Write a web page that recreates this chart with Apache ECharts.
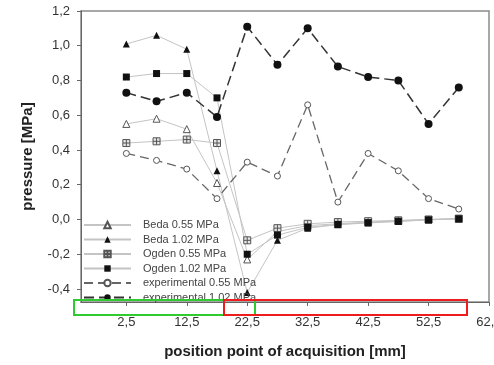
<!DOCTYPE html>
<html>
<head>
<meta charset="utf-8">
<script src="https://cdn.jsdelivr.net/npm/echarts@6/dist/echarts.min.js"></script>
<style>
  html, body { margin: 0; padding: 0; background: #fff; }
  #chart { width: 494px; height: 365px; }
</style>
</head>
<body>
<div id="chart"></div>
<script>
// measuring points along the sample [mm]
var positions = [2.5, 7.5, 12.5, 17.5, 22.5, 27.5, 32.5, 37.5, 42.5, 47.5, 52.5, 57.5];

// pressure [MPa]
var beda055 = [0.55, 0.58, 0.52, 0.21, -0.23, -0.07, -0.035, -0.025, -0.015, -0.008, 0.0, 0.005];
var beda102 = [1.01, 1.06, 0.98, 0.28, -0.42, -0.12, -0.05, -0.03, -0.02, -0.012, -0.002, 0.004];
var ogden055 = [0.44, 0.45, 0.46, 0.44, -0.12, -0.05, -0.025, -0.015, -0.01, -0.005, 0.0, 0.005];
var ogden102 = [0.82, 0.84, 0.84, 0.70, -0.20, -0.09, -0.045, -0.028, -0.018, -0.01, -0.002, 0.004];
var exp055 = [0.38, 0.34, 0.29, 0.12, 0.33, 0.25, 0.66, 0.10, 0.38, 0.28, 0.12, 0.06];
var exp102 = [0.73, 0.68, 0.73, 0.59, 1.11, 0.89, 1.10, 0.88, 0.82, 0.80, 0.55, 0.76];

var xTicks = [2.5, 12.5, 22.5, 32.5, 42.5, 52.5, 62.5];
var yTicks = [-0.4, -0.2, 0, 0.2, 0.4, 0.6, 0.8, 1.0, 1.2];

var seriesNames = ['Beda 0.55 MPa', 'Beda 1.02 MPa', 'Ogden 0.55 MPa', 'Ogden 1.02 MPa',
  'experimental 0.55 MPa', 'experimental 1.02 MPa'];

function pairs(vals) {
  return positions.map(function (x, i) { return [x, vals[i]]; });
}

// decimal comma like the original figure
function comma(v, d) {
  return Number(v).toFixed(d).replace('.', ',');
}

var font = 'Liberation Sans, Arial, sans-serif';
var modelLine = { color: '#c4c4c4', width: 1 };

var myChart = echarts.init(document.getElementById('chart'));

var option = {
  animation: false,
  grid: {
    left: 81, right: 5, top: 11, bottom: 63,
    outerBoundsMode: 'none',
    show: true, borderColor: '#8a8a8a', borderWidth: 1.5
  },
  legend: {
    orient: 'vertical',
    left: 83, top: 219,
    padding: 0,
    itemWidth: 47, itemHeight: 8, itemGap: 2.5,
    textStyle: { fontFamily: font, fontSize: 11, color: '#444', lineHeight: 12, padding: [0, 0, 0, 7] },
    data: seriesNames
  },
  xAxis: {
    type: 'value',
    min: -5, max: 62.5,
    name: 'position point of acquisition [mm]',
    nameLocation: 'middle',
    nameGap: 42,
    nameTextStyle: { fontFamily: font, fontSize: 15, fontWeight: 'bold', color: '#222' },
    axisLine: { onZero: false, lineStyle: { color: '#666', width: 1 } },
    axisTick: { show: true, length: 4, customValues: xTicks, lineStyle: { color: '#666' } },
    axisLabel: {
      customValues: xTicks, margin: 14, hideOverlap: false,
      fontFamily: font, fontSize: 13, color: '#333',
      formatter: function (v) { return comma(v, 1); }
    },
    splitLine: { show: false }
  },
  yAxis: {
    type: 'value',
    min: -0.475, max: 1.2,
    name: 'pressure [MPa]',
    nameLocation: 'middle',
    nameGap: 46,
    nameTextStyle: { fontFamily: font, fontSize: 15, fontWeight: 'bold', color: '#222' },
    axisLine: { show: true, onZero: false, lineStyle: { color: '#666', width: 1 } },
    axisTick: { show: true, length: 4, customValues: yTicks, lineStyle: { color: '#666' } },
    axisLabel: {
      customValues: yTicks, margin: 11,
      fontFamily: font, fontSize: 13, color: '#333',
      formatter: function (v) { return comma(v, 1); }
    },
    splitLine: { show: false }
  },
  series: [
    {
      name: seriesNames[0], type: 'line', data: pairs(beda055),
      symbol: 'triangle', symbolSize: 7,
      itemStyle: { color: '#fff', borderColor: '#555', borderWidth: 1 },
      lineStyle: modelLine
    },
    {
      name: seriesNames[1], type: 'line', data: pairs(beda102),
      symbol: 'triangle', symbolSize: 7,
      itemStyle: { color: '#111', borderColor: '#111', borderWidth: 0 },
      lineStyle: modelLine
    },
    {
      name: seriesNames[2], type: 'line', data: pairs(ogden055),
      symbol: 'path://M0,0H10V10H0Z M5,0V10 M0,5H10', symbolSize: 7,
      itemStyle: { color: '#e4e4e4', borderColor: '#555', borderWidth: 1 },
      lineStyle: modelLine
    },
    {
      name: seriesNames[3], type: 'line', data: pairs(ogden102),
      symbol: 'rect', symbolSize: 7,
      itemStyle: { color: '#111', borderWidth: 0 },
      lineStyle: modelLine
    },
    {
      name: seriesNames[4], type: 'line', data: pairs(exp055),
      symbol: 'circle', symbolSize: 6,
      itemStyle: { color: '#fff', borderColor: '#555', borderWidth: 1 },
      lineStyle: { color: '#666', width: 1.3, type: [9, 5] }
    },
    {
      name: seriesNames[5], type: 'line', data: pairs(exp102),
      symbol: 'circle', symbolSize: 8,
      itemStyle: { color: '#111', borderWidth: 0 },
      lineStyle: { color: '#333', width: 1.5, type: [10, 5] }
    }
  ],
  // highlight boxes drawn over the original figure
  graphic: [
    {
      type: 'rect', z: 100,
      shape: { x: 74, y: 300, width: 181, height: 15 },
      style: { fill: 'none', stroke: '#2fcc2f', lineWidth: 2 }
    },
    {
      type: 'rect', z: 101,
      shape: { x: 224, y: 300, width: 243, height: 15 },
      style: { fill: 'none', stroke: '#ee1c1c', lineWidth: 2 }
    }
  ]
};

myChart.setOption(option);
</script>
</body>
</html>
